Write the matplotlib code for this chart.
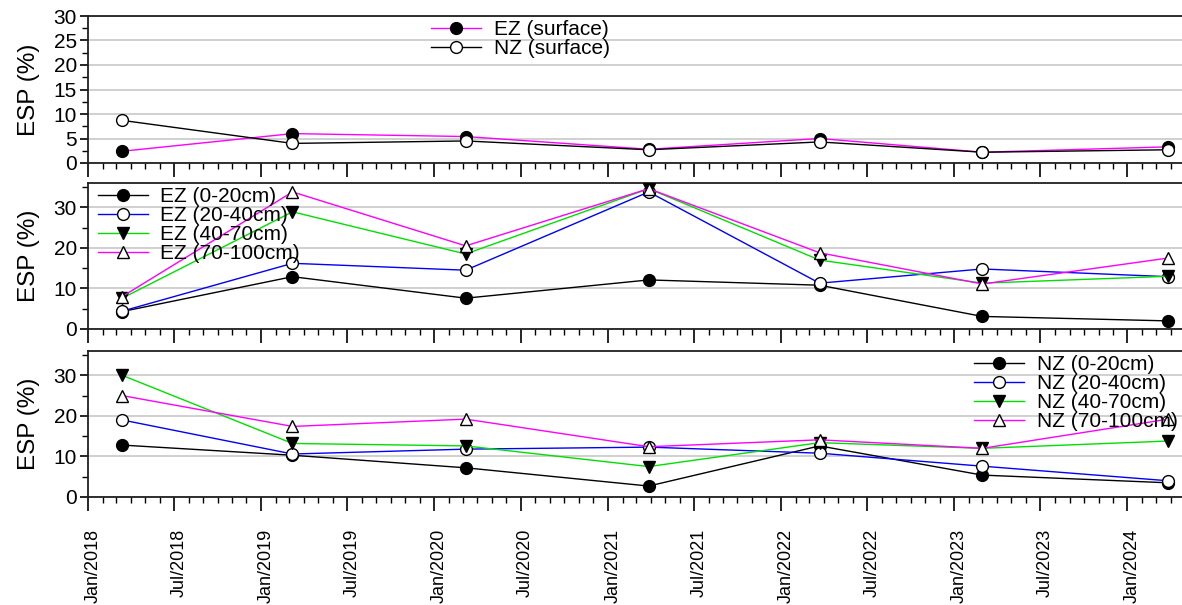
import numpy as np
import pandas as pd
import matplotlib
matplotlib.use('Agg')
import matplotlib.pyplot as plt
import matplotlib.dates as mdates
import matplotlib.transforms as mtransforms

plt.rcParams['font.family'] = ['Liberation Sans', 'DejaVu Sans']

# sampling dates (one campaign per year)
dates = pd.to_datetime(['2018-03-14', '2019-03-08', '2020-03-07', '2021-03-28',
                        '2022-03-23', '2023-03-01', '2024-03-27'])

# surface ESP (%)
ez_surface = [2.4, 6.0, 5.4, 2.8, 5.0, 2.2, 3.3]
nz_surface = [8.7, 4.0, 4.5, 2.7, 4.3, 2.2, 2.7]

# EZ profile ESP (%)
ez_0_20 = [4.3, 12.9, 7.6, 12.1, 10.8, 3.1, 2.0]
ez_20_40 = [4.4, 16.2, 14.5, 33.8, 11.3, 14.8, 12.9]
ez_40_70 = [7.6, 28.9, 18.5, 34.6, 17.0, 11.3, 13.0]
ez_70_100 = [8.0, 33.8, 20.5, 34.6, 18.8, 11.1, 17.5]

# NZ profile ESP (%)
nz_0_20 = [12.8, 10.3, 7.2, 2.7, 12.6, 5.4, 3.5]
nz_20_40 = [19.0, 10.6, 11.8, 12.3, 10.8, 7.6, 4.0]
nz_40_70 = [30.0, 13.2, 12.6, 7.5, 13.4, 12.0, 13.8]
nz_70_100 = [25.0, 17.4, 19.2, 12.4, 14.1, 12.0, 19.2]

depth_labels = ['0-20cm', '20-40cm', '40-70cm', '70-100cm']
depth_styles = [('black', 'o', 'black'), ('blue', 'o', 'white'),
                ('#00E000', 'v', 'black'), ('#FF00FF', '^', 'white')]

W, H = 1182, 605
fig = plt.figure(figsize=(W / 100, H / 100), dpi=100)

left = 88 / W
width = 1 - left
panels = [(16, 163, 30), (183, 329, 36), (351, 497, 36)]
axes = []
for top, bot, ymax in panels:
    ax = fig.add_axes([left, (H - bot) / H, width, (bot - top) / H])
    ax.set_ylim(0, ymax)
    axes.append(ax)


def plot_series(ax, y, color, marker, face, label):
    ax.plot(dates, y, color=color, lw=1.0, marker=marker, ms=8.5,
            mfc=face, mec='black', mew=1.0, label=label, zorder=3)


ax1, ax2, ax3 = axes
plot_series(ax1, ez_surface, '#FF00FF', 'o', 'black', 'EZ (surface)')
plot_series(ax1, nz_surface, 'black', 'o', 'white', 'NZ (surface)')

for y, (c, m, f), d in zip([ez_0_20, ez_20_40, ez_40_70, ez_70_100], depth_styles, depth_labels):
    plot_series(ax2, y, c, m, f, 'EZ (%s)' % d)
for y, (c, m, f), d in zip([nz_0_20, nz_20_40, nz_40_70, nz_70_100], depth_styles, depth_labels):
    plot_series(ax3, y, c, m, f, 'NZ (%s)' % d)

x0 = pd.Timestamp('2018-01-01')
x1 = pd.Timestamp('2024-04-25')
for ax in axes:
    ax.set_xlim(x0, x1)
    ax.xaxis.set_major_locator(mdates.MonthLocator(bymonth=[1, 7]))
    ax.xaxis.set_minor_locator(mdates.MonthLocator())
    ax.xaxis.set_major_formatter(mdates.DateFormatter('%b/%Y'))
    ax.spines['right'].set_visible(False)
    for s in ['left', 'bottom', 'top']:
        ax.spines[s].set_linewidth(1.3)
        ax.spines[s].set_color('#202020')
    ax.tick_params(axis='x', which='major', direction='out', length=10, width=1.2)
    ax.tick_params(axis='x', which='minor', direction='out', length=4, width=1.0)
    ax.tick_params(axis='y', which='major', direction='out', length=6, width=1.2,
                   labelsize=15, pad=2)
    ax.tick_params(axis='y', which='minor', direction='out', length=4, width=1.0)
    ax.grid(axis='y', which='major', color='#C8C8C8', lw=1.2, zorder=0)
    ax.set_ylabel('ESP (%)', fontsize=17.5, labelpad=10)
    ax.set_axisbelow(True)

ax1.set_yticks(np.arange(0, 31, 5))
ax1.set_yticks(np.arange(0, 31, 2.5), minor=True)
for ax in (ax2, ax3):
    ax.set_yticks(np.arange(0, 31, 10))
    ax.set_yticks(np.arange(0, 36, 5), minor=True)

for ax in (ax1, ax2):
    ax.tick_params(axis='x', labelbottom=False)
ax3.tick_params(axis='x', which='major', labelsize=13, labelrotation=90, pad=13)

# nudge the rotated date labels a little to the right of their ticks
shift = mtransforms.ScaledTranslation(5 / 100, 0, fig.dpi_scale_trans)
for lbl in ax3.get_xticklabels():
    lbl.set_transform(lbl.get_transform() + shift)

leg_kw = dict(frameon=False, fontsize=15, handlelength=2.4, handletextpad=0.6,
              labelspacing=0.0, borderpad=0.2, borderaxespad=0.0)
ax1.legend(loc='upper left', bbox_to_anchor=(0.31, 1.0), **leg_kw)
ax2.legend(loc='upper left', bbox_to_anchor=(0.005, 1.0), **leg_kw)
ax3.legend(loc='upper right', bbox_to_anchor=(1.0, 1.0), **leg_kw)

fig.savefig('out.png', dpi=100)
